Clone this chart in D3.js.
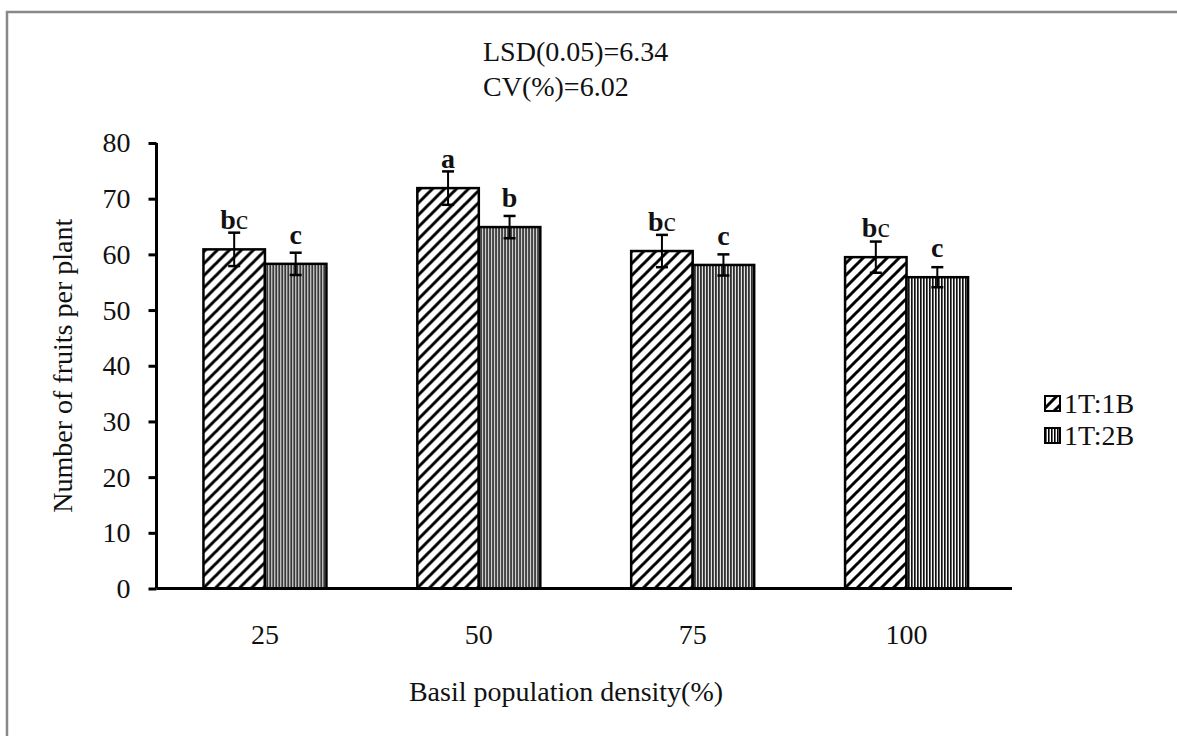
<!DOCTYPE html>
<html>
<head>
<meta charset="utf-8">
<script src="https://cdn.jsdelivr.net/npm/d3@7"></script>
<style>
  html, body { margin: 0; padding: 0; background: #fff; }
  svg { display: block; }
  text { font-family: "Liberation Serif", "Times New Roman", serif; fill: #111; }
</style>
</head>
<body>
<svg id="chart" width="1177" height="736"></svg>
<script>
// Basil population density groups
const categories = ["25", "50", "75", "100"];
const seriesNames = ["1T:1B", "1T:2B"];
// Mean number of fruits per plant
const valuesA = [60.9, 71.9, 60.6, 59.5];
const valuesB = [58.3, 64.9, 58.1, 55.9];
// Standard errors
const errorsA = [3.0, 3.0, 2.9, 2.8];
const errorsB = [2.0, 2.0, 1.9, 1.8];
// Mean separation letters
const lettersA = ["bc", "a", "bc", "bc"];
const lettersB = ["c", "b", "c", "c"];
const yTicks = [0, 10, 20, 30, 40, 50, 60, 70, 80];
const notes = ["LSD(0.05)=6.34", "CV(%)=6.02"];

const svg = d3.select("#chart");
const defs = svg.append("defs");

// diagonal hatch for 1T:1B
const pA = defs.append("pattern").attr("id", "hatchA")
  .attr("patternUnits", "userSpaceOnUse").attr("width", 12).attr("height", 12);
pA.append("rect").attr("width", 12).attr("height", 12).attr("fill", "#fff");
pA.append("path").attr("d", "M-3,3 L3,-3 M0,12 L12,0 M9,15 L15,9")
  .attr("stroke", "#000").attr("stroke-width", 3);

// vertical stripes for 1T:2B
const pB = defs.append("pattern").attr("id", "hatchB")
  .attr("patternUnits", "userSpaceOnUse").attr("width", 3).attr("height", 3);
pB.append("rect").attr("width", 3).attr("height", 3).attr("fill", "#fff");
pB.append("rect").attr("width", 1.6).attr("height", 3).attr("fill", "#000");

// outer frame
svg.append("rect").attr("x", 7).attr("y", 12).attr("width", 1200).attr("height", 800)
  .attr("fill", "none").attr("stroke", "#888").attr("stroke-width", 2.5);

const plotLeft = 156.5, plotRight = 1012, plotTop = 143, plotBottom = 588.5;
const fs = "28px";

const x0 = d3.scaleBand().domain(categories).range([plotLeft, plotRight]).paddingInner(0).paddingOuter(0);
const groupW = 123;
const x1 = d3.scaleBand().domain(seriesNames).range([0, groupW]);
const y = d3.scaleLinear().domain([0, 80]).range([plotBottom, plotTop]);

const rows = categories.map((c, i) => ({
  cat: c,
  items: [
    { s: seriesNames[0], v: valuesA[i], e: errorsA[i], l: lettersA[i], fill: "url(#hatchA)" },
    { s: seriesNames[1], v: valuesB[i], e: errorsB[i], l: lettersB[i], fill: "url(#hatchB)" }
  ]
}));

const groups = svg.append("g").selectAll("g").data(rows).join("g")
  .attr("transform", d => `translate(${x0(d.cat) + x0.bandwidth() / 2 - groupW / 2 + 1.5},0)`);

groups.selectAll("rect.bar").data(d => d.items).join("rect")
  .attr("class", "bar")
  .attr("x", d => x1(d.s))
  .attr("y", d => y(d.v))
  .attr("width", x1.bandwidth())
  .attr("height", d => y(0) - y(d.v))
  .attr("fill", d => d.fill)
  .attr("stroke", "#000").attr("stroke-width", 2.5);

// error bars
const eb = groups.selectAll("g.err").data(d => d.items).join("g").attr("class", "err")
  .attr("transform", d => `translate(${x1(d.s) + x1.bandwidth() / 2},0)`);
eb.append("line").attr("y1", d => y(d.v + d.e)).attr("y2", d => y(d.v - d.e))
  .attr("stroke", "#000").attr("stroke-width", 2);
eb.append("line").attr("x1", -6).attr("x2", 6).attr("y1", d => y(d.v + d.e)).attr("y2", d => y(d.v + d.e))
  .attr("stroke", "#000").attr("stroke-width", 2.5);
eb.append("line").attr("x1", -6).attr("x2", 6).attr("y1", d => y(d.v - d.e)).attr("y2", d => y(d.v - d.e))
  .attr("stroke", "#000").attr("stroke-width", 2.5);

// significance letters, placed a fixed distance above each bar
const lt = eb.append("text")
  .attr("y", d => y(d.v) - 20)
  .attr("text-anchor", "middle")
  .style("font-size", fs);
lt.each(function(d) {
  const t = d3.select(this);
  if (d.l.length > 1) {
    t.append("tspan").attr("font-weight", "bold").text(d.l[0]);
    t.append("tspan").attr("font-weight", "normal").text(d.l.slice(1));
  } else {
    t.append("tspan").attr("font-weight", "bold").text(d.l);
  }
});

// y axis
const yAxis = svg.append("g").attr("transform", `translate(${plotLeft},0)`)
  .call(d3.axisLeft(y).tickValues(yTicks).tickSize(8).tickPadding(18).tickFormat(d3.format("d")));
yAxis.select(".domain").attr("stroke", "#000").attr("stroke-width", 3)
  .attr("d", `M0,${plotTop}V${plotBottom}`);
yAxis.selectAll(".tick line").attr("stroke", "#000").attr("stroke-width", 3);
yAxis.selectAll(".tick text").style("font-size", fs)
  .style("font-family", "Liberation Serif, serif").attr("fill", "#111");

// x axis
const xAxis = svg.append("g").attr("transform", `translate(0,${plotBottom})`)
  .call(d3.axisBottom(x0).tickSize(0).tickPadding(36));
xAxis.select(".domain").attr("stroke", "#000").attr("stroke-width", 3)
  .attr("d", `M${plotLeft},0H${plotRight}`);
xAxis.selectAll(".tick text").style("font-size", fs)
  .style("font-family", "Liberation Serif, serif").attr("fill", "#111")
  .attr("dx", 1.5);

// axis titles
svg.append("text").attr("x", 566).attr("y", 701).attr("text-anchor", "middle")
  .style("font-size", fs).text("Basil population density(%)");
svg.append("text").attr("transform", `translate(72,${(plotTop + plotBottom) / 2}) rotate(-90)`)
  .attr("text-anchor", "middle").style("font-size", fs).text("Number of fruits per plant");

// statistics note
svg.append("g").selectAll("text").data(notes).join("text")
  .attr("x", 483).attr("y", (d, i) => 61 + i * 35)
  .style("font-size", fs).text(d => d);

// legend
const lg = svg.append("g").selectAll("g").data(seriesNames).join("g")
  .attr("transform", (d, i) => `translate(1045,${396 + i * 32})`);
lg.append("rect").attr("width", 15).attr("height", 15)
  .attr("fill", (d, i) => i === 0 ? "url(#hatchA)" : "url(#hatchB)")
  .attr("stroke", "#000").attr("stroke-width", 2);
lg.append("text").attr("x", 19).attr("y", 17).style("font-size", fs).text(d => d);
</script>
</body>
</html>
